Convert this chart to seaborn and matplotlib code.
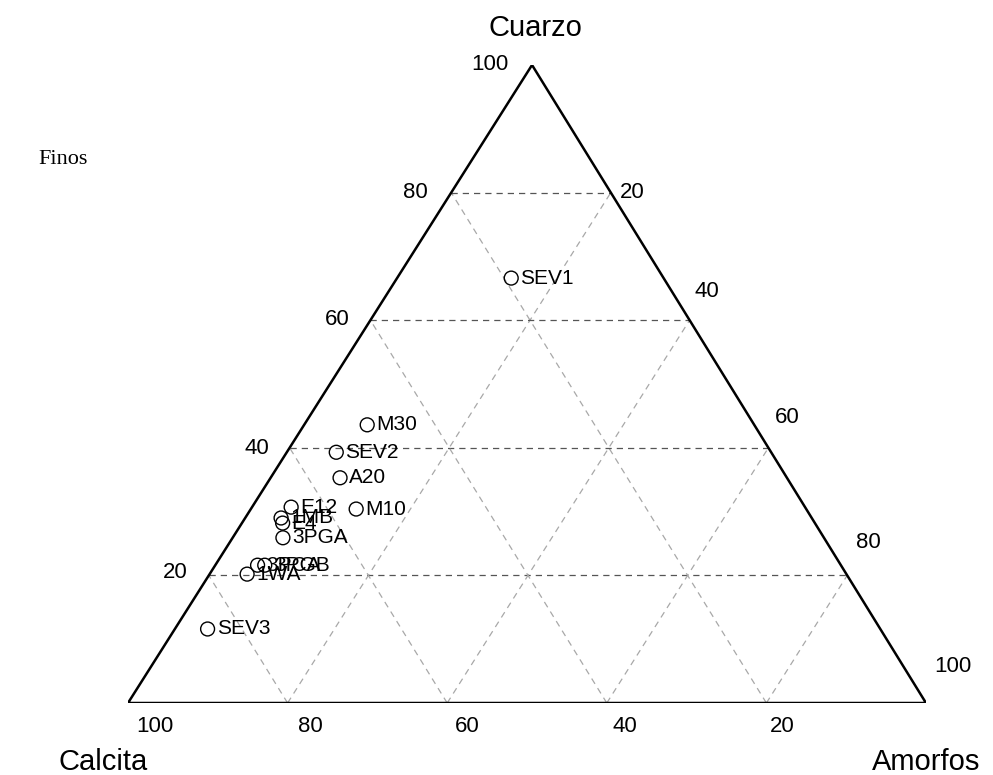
import matplotlib
matplotlib.use("Agg")
import matplotlib.pyplot as plt
import seaborn as sns
import pandas as pd

# ---- data (percent) ----
samples = ["SEV1", "M30", "SEV2", "A20", "M10", "E12", "1MB", "E4", "3PGA",
           "3PCA", "3PGB", "1WA", "SEV3"]
cuarzo  = [66.6, 43.6, 39.3, 35.3, 30.4, 30.7, 29.0, 28.2, 25.9, 21.6, 21.6, 20.2, 11.6]
amorfos = [14.3,  7.9,  6.2,  8.7, 13.2,  4.9,  4.5,  5.1,  6.3,  5.3,  6.2,  4.7,  4.1]
calcita = [100 - q - a for q, a in zip(cuarzo, amorfos)]

grid_values = [20, 40, 60, 80]
left_ticks = ["100", "80", "60", "40", "20"]      # Cuarzo
right_ticks = ["20", "40", "60", "80", "100"]     # Amorfos
bottom_ticks = ["100", "80", "60", "40", "20"]    # Calcita

APEX = 0.5063  # horizontal position of apex (fraction of base)

def tern(q, a):
    return a / 100 + q / 100 * APEX, q / 100

sns.set_theme(style="white")
plt.rcParams["font.family"] = ["Liberation Sans", "DejaVu Sans"]
plt.rcParams["text.color"] = "black"

W, H = 993, 775
fig = plt.figure(figsize=(W / 100, H / 100), dpi=100)
ax = fig.add_axes([128 / W, 72 / H, 798 / W, 638 / H])
ax.set_xlim(0, 1)
ax.set_ylim(0, 1)
ax.axis("off")

# grid lines
for v in grid_values:
    x0, y0 = tern(v, 0)
    x1, y1 = tern(v, 100 - v)
    ax.plot([x0, x1], [y0, y1], color="#555555", lw=0.9, ls=(0, (5, 4)), zorder=1)
    x0, y0 = tern(0, v)
    x1, y1 = tern(100 - v, v)
    ax.plot([x0, x1], [y0, y1], color="#a8a8a8", lw=0.9, ls=(0, (5, 4)), zorder=1)
    x0, y0 = tern(0, 100 - v)
    x1, y1 = tern(100 - v, 0)
    ax.plot([x0, x1], [y0, y1], color="#a8a8a8", lw=0.9, ls=(0, (5, 4)), zorder=1)

# triangle outline
cx = [tern(0, 0)[0], tern(0, 100)[0], tern(100, 0)[0], tern(0, 0)[0]]
cy = [tern(0, 0)[1], tern(0, 100)[1], tern(100, 0)[1], tern(0, 0)[1]]
ax.plot(cx, cy, color="black", lw=1.8, zorder=2, solid_joinstyle="miter")

# points
xs, ys = zip(*[tern(q, a) for q, a in zip(cuarzo, amorfos)])
df = pd.DataFrame({"x": xs, "y": ys, "name": samples})
sns.scatterplot(data=df, x="x", y="y", ax=ax, marker="o", s=100,
                facecolor="none", edgecolor="black", linewidth=1.0, zorder=3)
ax.set_xlim(0, 1)
ax.set_ylim(0, 1)
for _, r in df.iterrows():
    ax.annotate(r["name"], (r["x"], r["y"]), xytext=(6.5, 0), textcoords="offset points",
                ha="left", va="center", fontsize=15, color="black", zorder=4)

def ftext(px, py, s, **kw):
    fig.text(px / W, 1 - py / H, s, ha="center", va="center", color="black", **kw)

for (px, py), s in zip([(490, 65), (415, 192), (337, 320), (257, 448), (175, 573)], left_ticks):
    ftext(px, py, s, fontsize=16)
for (px, py), s in zip([(632, 192), (707, 292), (787, 418), (868, 542), (953, 667)], right_ticks):
    ftext(px, py, s, fontsize=16)
for (px, py), s in zip([(155, 727), (310, 727), (467, 727), (625, 727), (782, 727)], bottom_ticks):
    ftext(px, py, s, fontsize=16)

ftext(535, 28, "Cuarzo", fontsize=21)
ftext(103, 762, "Calcita", fontsize=21)
ftext(926, 762, "Amorfos", fontsize=21)
fig.text(38 / W, 1 - 160 / H, "Finos", ha="left", va="center", fontsize=16,
         color="black", family=["Liberation Serif", "DejaVu Serif"])

fig.savefig("out.png", dpi=100, facecolor="white")
